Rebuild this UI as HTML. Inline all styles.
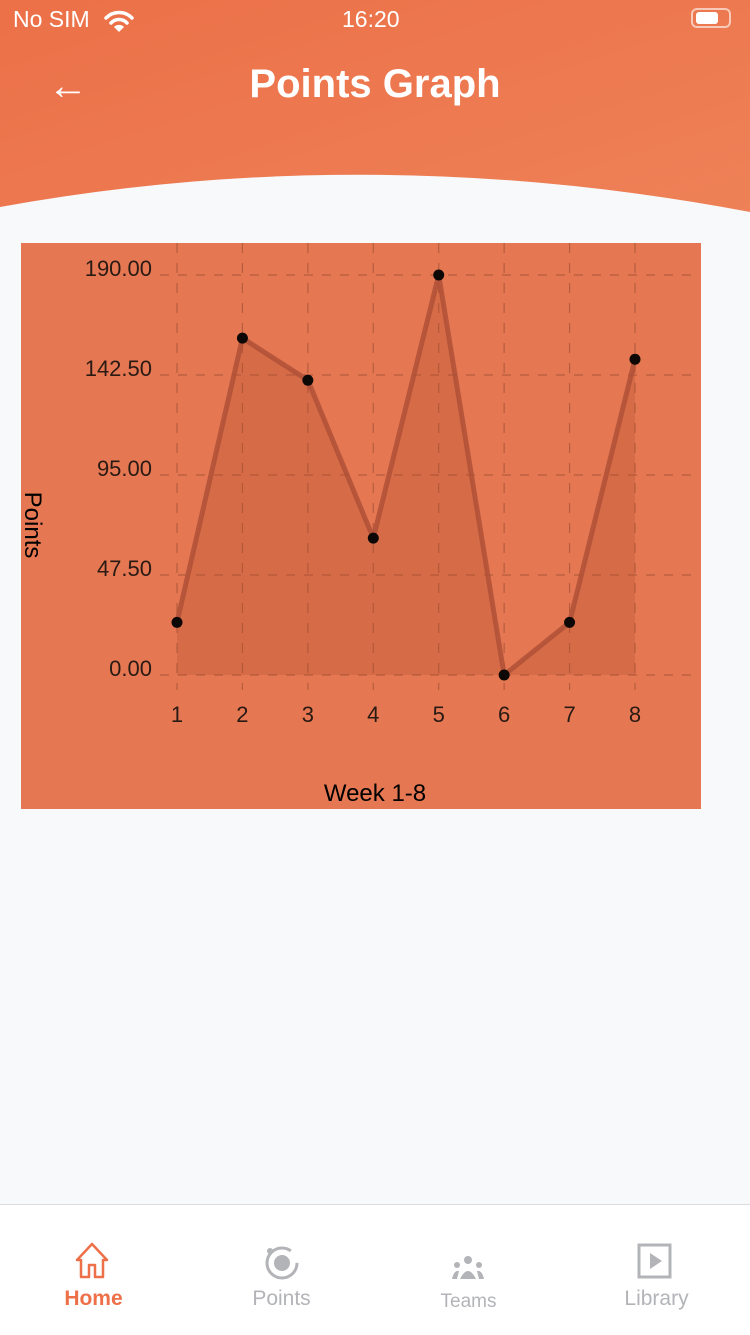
<!DOCTYPE html>
<html><head><meta charset="utf-8"><style>
body{margin:0;width:750px;height:1334px;background:#f8f9fb;font-family:"Liberation Sans",sans-serif;position:relative;overflow:hidden}
.hdr{position:absolute;left:0;top:0;width:750px;height:240px}
.st{position:absolute;top:6px;color:#fff;font-size:23px}
.nav{position:absolute;left:0;top:1204px;width:750px;height:130px;background:#fff;border-top:1px solid #dcdde0}
.tab{position:absolute;top:0;width:187px;text-align:center}
.tab span{position:absolute;left:0;width:187px;font-size:21px;color:#b3b4b8}
</style></head><body>
<svg class="hdr" width="750" height="240">
<defs><linearGradient id="g" x1="0" x2="1" y1="0" y2="1"><stop offset="0" stop-color="#ec7048"/><stop offset="1" stop-color="#ee8258"/></linearGradient></defs>
<rect width="750" height="240" fill="url(#g)"/>
<path d="M0 207 Q370 140 750 212 L750 240 L0 240Z" fill="#f8f9fb"/>
</svg>
<div class="st" style="left:13px">No SIM</div>
<svg style="position:absolute;left:103px;top:8px" width="32" height="26">
<path d="M3 10 A18 18 0 0 1 29 10" fill="none" stroke="#fff" stroke-width="3.5" stroke-linecap="round"/>
<path d="M8 15 A11 11 0 0 1 24 15" fill="none" stroke="#fff" stroke-width="3.5" stroke-linecap="round"/>
<path d="M16 24 L11 19 A7 7 0 0 1 21 19Z" fill="#fff"/></svg>
<div class="st" style="left:342px">16:20</div>
<div style="position:absolute;left:691px;top:8px;width:40px;height:20px;border:2px solid rgba(255,255,255,.6);border-radius:6px;box-sizing:border-box"><div style="position:absolute;left:3px;top:2px;width:22px;height:12px;background:#fff;border-radius:3px"></div></div>
<div style="position:absolute;left:48px;top:66px;color:#fff;font-size:40px;line-height:40px">&#8592;</div>
<div style="position:absolute;left:0;width:750px;top:62px;text-align:center;color:#fff;font-size:40px;font-weight:bold">Points Graph</div>

<svg id="chart" style="position:absolute;left:0;top:0" width="750" height="820"></svg>

<div class="nav">
<div class="tab" style="left:0">
<svg style="position:absolute;left:74px;top:36px" width="36" height="38"><path d="M3 19 L18 3 L33 19 L29 19 L29 36 L21 36 L21 24 L15 24 L15 36 L7 36 L7 19Z" fill="none" stroke="#ee7048" stroke-width="2.5" stroke-linejoin="round"/></svg>
<span style="top:82px;color:#ee7048;font-weight:bold">Home</span></div>
<div class="tab" style="left:188px">
<svg style="position:absolute;left:74px;top:38px" width="40" height="40"><circle cx="20" cy="20" r="15" fill="none" stroke="#b3b4b8" stroke-width="3" stroke-dasharray="80 14"/><circle cx="20" cy="20" r="8" fill="#b3b4b8"/><circle cx="8" cy="8" r="3" fill="#b3b4b8"/></svg>
<span style="top:82px">Points</span></div>
<div class="tab" style="left:375px">
<svg style="position:absolute;left:76px;top:50px" width="34" height="26"><circle cx="17" cy="5" r="4" fill="#b3b4b8"/><circle cx="6" cy="10" r="3" fill="#b3b4b8"/><circle cx="28" cy="10" r="3" fill="#b3b4b8"/><path d="M9 24 Q17 8 25 24Z M1 24 Q3 15 8 16 L6 24Z M33 24 Q31 15 26 16 L28 24Z" fill="#b3b4b8"/></svg>
<span style="top:86px;font-size:19px">Teams</span></div>
<div class="tab" style="left:563px">
<svg style="position:absolute;left:74px;top:38px" width="36" height="36"><rect x="2" y="2" width="31" height="32" fill="none" stroke="#b3b4b8" stroke-width="3"/><path d="M13 10 L25 18 L13 26Z" fill="#b3b4b8"/></svg>
<span style="top:82px">Library</span></div>
</div>

<script>
const weeks=[1,2,3,4,5,6,7,8];
const points=[25,160,140,65,190,0,25,150];
const yTicks=[0,47.5,95,142.5,190];
const svg=document.getElementById('chart');
const NS='http://www.w3.org/2000/svg';
const X=w=>177+(w-1)*(635-177)/7;
const Y=v=>675-v*400/190;
function mk(t,a){const e=document.createElementNS(NS,t);for(const k in a)e.setAttribute(k,a[k]);svg.appendChild(e);return e;}
const bg=mk('rect',{x:21,y:243,width:680,height:566,fill:'#e57852'});


yTicks.forEach(v=>{
 const l=mk('line',{x1:160,x2:700,y1:Y(v),y2:Y(v),stroke:'rgba(60,20,10,0.28)','stroke-width':1.2,'stroke-dasharray':'9 9'});
 
 
 const t=mk('text',{x:152,y:Y(v)+1,'text-anchor':'end','font-size':22,fill:'#2a1a14','font-family':'Liberation Sans'});
 t.textContent=v.toFixed(2);
 
 
});
weeks.forEach(w=>{
 const l=mk('line',{x1:X(w),x2:X(w),y1:243,y2:690,stroke:'rgba(60,20,10,0.28)','stroke-width':1.2,'stroke-dasharray':'10 10'});
 
 
 const t=mk('text',{x:X(w),y:722,'text-anchor':'middle','font-size':22,fill:'#2a1a14','font-family':'Liberation Sans'});
 t.textContent=w;
 
 
});
let d='M'+X(weeks[0])+' '+Y(0);
weeks.forEach((w,i)=>d+=' L'+X(w)+' '+Y(points[i]));
d+=' L'+X(weeks[weeks.length-1])+' '+Y(0)+'Z';
const area=mk('path',{d:d,fill:'rgba(170,70,40,0.25)'});


const line=mk('polyline',{points:weeks.map((w,i)=>X(w)+','+Y(points[i])).join(' '),fill:'none',stroke:'rgba(175,80,55,0.85)','stroke-width':5,'stroke-linejoin':'round'});


weeks.forEach((w,i)=>{
 const c=mk('circle',{cx:X(w),cy:Y(points[i]),r:5.5,fill:'#0d0806'});
 
 
});
const xt=mk('text',{x:375,y:801,'text-anchor':'middle','font-size':24,fill:'#000','font-family':'Liberation Sans'});
xt.textContent='Week 1-8';


const yt=mk('text',{x:0,y:0,'text-anchor':'middle','font-size':24,fill:'#000','font-family':'Liberation Sans',transform:'translate(25 525) rotate(90)'});
yt.textContent='Points';


</script>
</body></html>
